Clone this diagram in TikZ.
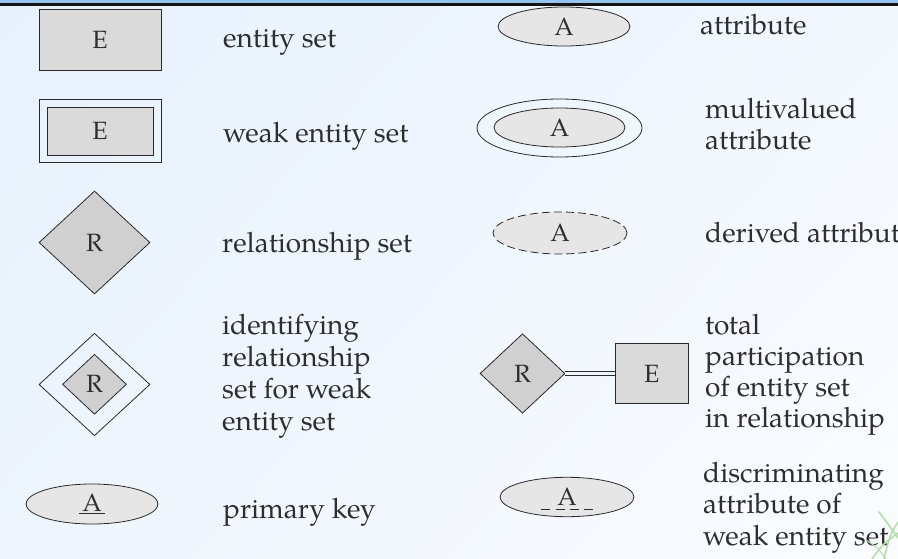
\documentclass[tikz,border=0pt]{standalone}
\usepackage{fontspec}
\setmainfont{TeX Gyre Pagella}
\usetikzlibrary{shapes.geometric,calc,shadings}
\definecolor{ink}{HTML}{2E2E2E}
\definecolor{edge}{HTML}{2A2A2A}
\definecolor{boxfill}{HTML}{DADADA}
\definecolor{dmdfill}{HTML}{D0D0D0}
\definecolor{ellfill}{HTML}{E6E6E6}
\definecolor{bgUL}{HTML}{E7F1FC}
\definecolor{bgUR}{HTML}{F3F8FF}
\definecolor{bgLL}{HTML}{EEF5FD}
\definecolor{bgLR}{HTML}{FAFCFF}
\definecolor{topblue}{HTML}{94C3F0}
\definecolor{grass}{HTML}{B5DDA8}
\begin{document}
\begin{tikzpicture}[x=1pt,y=-1pt,
  shapetext/.style={font=\fontsize{25}{27}\selectfont, text=ink, inner sep=0pt},
  entbox/.style={shapetext, rectangle, draw=edge, line width=0.9pt, fill=boxfill},
  outerbox/.style={rectangle, draw=edge, line width=0.9pt, inner sep=0pt},
  reldmd/.style={shapetext, diamond, draw=edge, line width=0.8pt, fill=dmdfill},
  outerdmd/.style={diamond, draw=edge, line width=0.8pt, inner sep=0pt},
  attrell/.style={shapetext, ellipse, draw=edge, line width=0.8pt, fill=ellfill},
  outerell/.style={ellipse, draw=edge, line width=0.8pt, inner sep=0pt},
  lbl/.style={anchor=base west, inner sep=0pt, align=left, text=ink, font=\fontsize{28}{32}\selectfont},
  grassline/.style={draw=grass, line width=1.6pt, line cap=round}
]
\useasboundingbox (0,0) rectangle (898,559);
\clip (0,0) rectangle (898,559);
\shade[upper left=bgUL, upper right=bgUR, lower left=bgLL, lower right=bgLR] (0,0) rectangle (898,559);
\fill[topblue] (0,0) rectangle (898,2.8);
\fill[black!92] (0,2.8) rectangle (898,6);

% left column
\node[entbox, minimum width=122pt, minimum height=61pt] (ent) at (100,39.5) {E};
\node[lbl] (entl) at (223,48) {entity set};

\node[outerbox, minimum width=122pt, minimum height=63pt] (weakout) at (100,130.5) {};
\node[entbox, minimum width=106pt, minimum height=48pt] (weak) at (100,131) {E};
\node[lbl] (weakl) at (223,143) {weak entity set};

\node[reldmd, minimum width=111pt, minimum height=103pt] (rel) at (94.5,242.5) {R};
\node[lbl] (rell) at (222,252) {relationship set};

\node[outerdmd, minimum width=111pt, minimum height=102.5pt] (idout) at (94.5,384.5) {};
\node[reldmd, minimum width=64pt, minimum height=60pt] (id) at (94.5,384.3) {R};
\node[lbl] (idl) at (222,430) {identifying\\relationship\\set for weak\\entity set};

\node[attrell, minimum width=132pt, minimum height=40pt] (pk) at (92,504) {\underline{\hspace{3pt}A\hspace{3pt}}};
\node[lbl] (pkl) at (223,518) {primary key};

% right column
\node[attrell, minimum width=132pt, minimum height=39pt] (att) at (564,26.5) {A};
\node[lbl] (attl) at (700,35) {attribute};

\node[outerell, minimum width=165pt, minimum height=58pt] (mvout) at (559.5,128) {};
\node[attrell, minimum width=131pt, minimum height=39pt] (mv) at (559.5,127.5) {A};
\node[lbl] (mvl) at (705,150) {multivalued\\attribute};

\node[attrell, dash pattern=on 8pt off 4pt, minimum width=134pt, minimum height=42pt] (der) at (560,233) {A};
\node[lbl] (derl) at (705,243) {derived attribute};

\node[reldmd, minimum width=85pt, minimum height=79.5pt] (tp) at (522.5,373.5) {R};
\node[entbox, minimum width=73.3pt, minimum height=60.7pt] (tpe) at (651.7,373.5) {E};
\draw[edge, line width=0.8pt, double=bgLL, double distance=3.6pt] (tp.east) -- (tpe.west);
\node[lbl, font=\fontsize{28}{31}\selectfont] (tpl) at (705,427) {total\\participation\\of entity set\\in relationship};

\node[attrell, minimum width=134pt, minimum height=39.4pt] (disc) at (567,497) {A};
\draw[edge, line width=0.9pt, dash pattern=on 9pt off 5.2pt] ($(disc.center)+(-25.6,12.3)$) -- ($(disc.center)+(26,12.3)$);
\node[lbl, font=\fontsize{28}{31.5}\selectfont] (discl) at (703,545) {discriminating\\attribute of\\weak entity set};

% grass decoration
\draw[grassline] (879,512) .. controls (888,524) .. (898,538);
\draw[grassline] (898,522) .. controls (890,535) .. (884,559);
\draw[grassline] (872,559) .. controls (882,545) .. (898,533);
\draw[grassline, line width=1.1pt] (866,540) .. controls (878,548) .. (886,559);
\end{tikzpicture}
\end{document}
